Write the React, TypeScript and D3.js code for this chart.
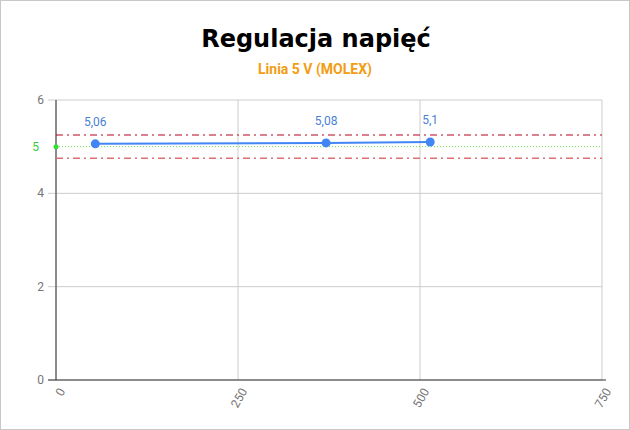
import * as React from "react"
import * as d3 from "d3"

const loads = [54, 371, 514]
const voltages = [5.06, 5.08, 5.1]
const pointLabels = ["5,06", "5,08", "5,1"]
const xTicks = [0, 250, 500, 750]
const yTicks = [0, 2, 4, 6]
const nominal = 5
const upperLimit = 5.25
const lowerLimit = 4.75

const W = 630
const H = 430
const margin = { top: 100, right: 28, bottom: 50, left: 56 }

export default function App() {
  const x = d3.scaleLinear().domain([0, 750]).range([margin.left, W - margin.right])
  const y = d3.scaleLinear().domain([0, 6]).range([H - margin.bottom, margin.top])
  const line = d3
    .line<number>()
    .x((_, i) => x(loads[i]))
    .y((d) => y(d))

  const gray = "#757575"
  const font = "Roboto, sans-serif"

  return (
    <svg
      width={W}
      height={H}
      style={{ position: "absolute", left: 0, top: 0, background: "#fff" }}
    >
      <rect x={0.5} y={0.5} width={W - 1} height={H - 1} fill="#fff" stroke="#c8c8c8" />

      {/* titles */}
      <text
        x={W / 2 + 1}
        y={47}
        textAnchor="middle"
        fontFamily="DejaVu Sans, sans-serif"
        fontWeight="bold"
        fontSize={24}
        fill="#000"
      >
        Regulacja napięć
      </text>
      <text
        x={W / 2}
        y={74}
        textAnchor="middle"
        fontFamily={font}
        fontWeight="bold"
        fontSize={14}
        fill="#f39c12"
      >
        Linia 5 V (MOLEX)
      </text>

      {/* grid */}
      {yTicks.map((t) => (
        <g key={"y" + t}>
          <line x1={margin.left - 8} x2={W - margin.right} y1={y(t)} y2={y(t)} stroke="#cccccc" />
          <text x={margin.left - 12} y={y(t) + 4} textAnchor="end" fontFamily={font} fontSize={12} fill={gray}>
            {t}
          </text>
        </g>
      ))}
      {xTicks.map((t) => (
        <g key={"x" + t}>
          <line x1={x(t)} x2={x(t)} y1={margin.top} y2={y(0)} stroke="#cccccc" />
          <text
            transform={`translate(${x(t) + 6},${y(0) + 9}) rotate(-60)`}
            textAnchor="end"
            dy="0.35em"
            fontFamily={font}
            fontSize={12}
            fill={gray}
          >
            {t}
          </text>
        </g>
      ))}

      {/* axes */}
      <line x1={x(0)} x2={x(0)} y1={margin.top} y2={y(0)} stroke="#333" />
      <line x1={margin.left - 8} x2={W - margin.right + 4} y1={y(0)} y2={y(0)} stroke="#333" />

      {/* limits */}
      <line
        x1={x(0)}
        x2={x(750)}
        y1={y(upperLimit)}
        y2={y(upperLimit)}
        stroke="#b5001e"
        strokeDasharray="7,4,2,4"
      />
      <line
        x1={x(0)}
        x2={x(750)}
        y1={y(lowerLimit)}
        y2={y(lowerLimit)}
        stroke="#e07070"
        strokeWidth={1.5}
        strokeDasharray="7,4,2,4"
      />
      <line
        x1={x(0)}
        x2={x(750)}
        y1={y(nominal)}
        y2={y(nominal)}
        stroke="#66dd44"
        strokeDasharray="1,2"
      />
      <circle cx={x(0)} cy={y(nominal)} r={2.5} fill="#33dd33" />
      <text x={margin.left - 17} y={y(nominal) + 4} textAnchor="end" fontFamily={font} fontSize={12} fill="#3ccc3c">
        {nominal}
      </text>

      {/* series */}
      <path d={line(voltages) || ""} fill="none" stroke="#4285f4" strokeWidth={2} />
      {voltages.map((v, i) => (
        <g key={i}>
          <circle cx={x(loads[i])} cy={y(v)} r={4.5} fill="#4285f4" />
          <text
            x={x(loads[i])}
            y={y(v) - 18}
            textAnchor="middle"
            fontFamily={font}
            fontSize={12}
            fill="#4a7fd4"
          >
            {pointLabels[i]}
          </text>
        </g>
      ))}
    </svg>
  )
}
